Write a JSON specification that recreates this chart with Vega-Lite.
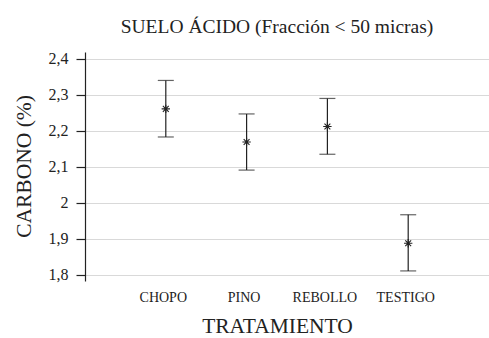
{
  "$schema": "https://vega.github.io/schema/vega-lite/v6.json",
  "width": 404,
  "height": 229,
  "autosize": {"type": "none"},
  "padding": {"left": 85, "top": 52, "right": 0, "bottom": 57},
  "background": "white",
  "config": {
    "view": {"stroke": null},
    "font": "Liberation Serif",
    "axisY": {
      "titleFont": "Liberation Serif",
      "titleFontSize": 21.5,
      "titleFontWeight": "normal",
      "titleColor": "#222222",
      "titleAngle": 270,
      "titleX": -61,
      "titleY": 114,
      "titleAlign": "center",
      "titleBaseline": "middle",
      "labelOverlap": false,
      "labelFont": "Liberation Serif",
      "labelFontSize": 16,
      "labelColor": "#222222",
      "labelPadding": 8,
      "tickSize": 9,
      "tickColor": "#222222",
      "tickWidth": 1.2,
      "domainColor": "#222222",
      "domainWidth": 1.2,
      "grid": true,
      "gridColor": "#d9d9d9",
      "gridWidth": 1.2
    }
  },
  "title": {
    "text": "SUELO ÁCIDO (Fracción < 50 micras)",
    "font": "Liberation Serif",
    "fontSize": 19.5,
    "fontWeight": "normal",
    "color": "#222222",
    "anchor": "middle",
    "frame": "group",
    "dx": -10,
    "offset": 13
  },
  "data": {
    "values": [
      {"tratamiento": "CHOPO", "media": 2.261, "inf": 2.183, "sup": 2.340},
      {"tratamiento": "PINO", "media": 2.169, "inf": 2.091, "sup": 2.247},
      {"tratamiento": "REBOLLO", "media": 2.212, "inf": 2.135, "sup": 2.290},
      {"tratamiento": "TESTIGO", "media": 1.888, "inf": 1.811, "sup": 1.967}
    ]
  },
  "encoding": {
    "x": {
      "field": "tratamiento",
      "type": "nominal",
      "sort": null,
      "scale": {"type": "point", "padding": 1.12, "align": 0.5},
      "axis": {
        "title": "TRATAMIENTO",
        "titleFont": "Liberation Serif",
        "titleFontSize": 21.5,
        "titleFontWeight": "normal",
        "titleColor": "#222222",
        "titleX": 192,
        "titleY": 45,
        "titleBaseline": "middle",
        "titleAnchor": null,
        "labelFont": "Liberation Serif",
        "labelFontSize": 14,
        "labelColor": "#222222",
        "labelAngle": 0,
        "labelPadding": 9,
        "labelOffset": -3,
        "ticks": false,
        "domain": false,
        "grid": false
      }
    }
  },
  "layer": [
    {
      "mark": {"type": "rule", "color": "#222222", "strokeWidth": 1.2},
      "encoding": {
        "y": {
          "field": "inf",
          "type": "quantitative",
          "scale": {"domain": [1.783, 2.419], "nice": false, "zero": false},
          "axis": {"title": "CARBONO (%)", "values": [1.8, 1.9, 2.0, 2.1, 2.2, 2.3, 2.4], "labelExpr": "replace(format(datum.value, '.1~f'), '.', ',')"}
        },
        "y2": {"field": "sup"}
      }
    },
    {
      "mark": {"type": "tick", "color": "#222222", "size": 16, "thickness": 1.2},
      "encoding": {"y": {"field": "inf", "type": "quantitative", "axis": {"title": "CARBONO (%)", "values": [1.8, 1.9, 2.0, 2.1, 2.2, 2.3, 2.4], "labelExpr": "replace(format(datum.value, '.1~f'), '.', ',')"}}}
    },
    {
      "mark": {"type": "tick", "color": "#222222", "size": 16, "thickness": 1.2},
      "encoding": {"y": {"field": "sup", "type": "quantitative", "axis": {"title": "CARBONO (%)", "values": [1.8, 1.9, 2.0, 2.1, 2.2, 2.3, 2.4], "labelExpr": "replace(format(datum.value, '.1~f'), '.', ',')"}}}
    },
    {
      "mark": {
        "type": "point",
        "shape": "M-1,0L1,0M0,-1L0,1M-0.7,-0.7L0.7,0.7M-0.7,0.7L0.7,-0.7",
        "size": 70,
        "stroke": "#222222",
        "strokeWidth": 1.1,
        "filled": false,
        "opacity": 1
      },
      "encoding": {"y": {"field": "media", "type": "quantitative", "axis": {"title": "CARBONO (%)", "values": [1.8, 1.9, 2.0, 2.1, 2.2, 2.3, 2.4], "labelExpr": "replace(format(datum.value, '.1~f'), '.', ',')"}}}
    }
  ]
}
